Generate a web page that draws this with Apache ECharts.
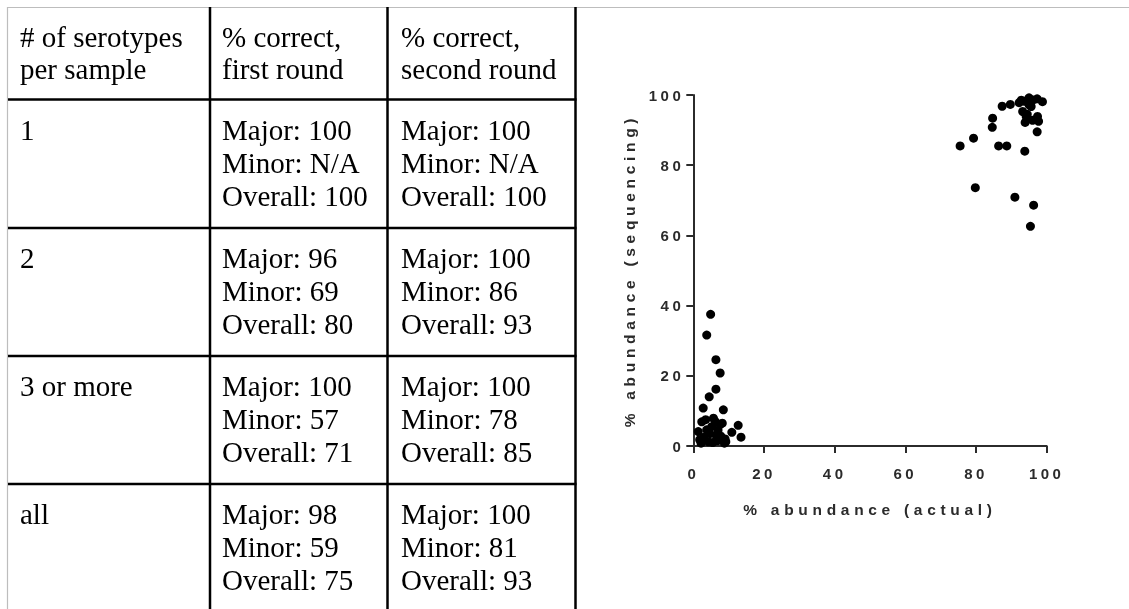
<!DOCTYPE html>
<html>
<head>
<meta charset="utf-8">
<script src="https://cdn.jsdelivr.net/npm/echarts@6/dist/echarts.min.js"></script>
<style>
  html, body { margin: 0; padding: 0; background: #fff; }
  #wrap { position: relative; width: 1129px; height: 609px; overflow: hidden; }
  #table { position: absolute; left: 0; top: 0; width: 1129px; height: 609px; }
  #scatter { position: absolute; left: 580px; top: 0; width: 549px; height: 609px; }
  #scatter text { letter-spacing: 3.5px; }
  #scatter text[style*="Arial"], #scatter text[font-family*="Arial"] { letter-spacing: 4.7px; }
</style>
</head>
<body>
<div id="wrap">
  <div id="table"></div>
  <div id="scatter"></div>
</div>
<script>
// ---------- Table data ----------
const headerLines = [
  ['# of serotypes', 'per sample'],
  ['% correct,', 'first round'],
  ['% correct,', 'second round']
];
const groups = ['1', '2', '3 or more', 'all'];
const metrics = ['Major', 'Minor', 'Overall'];
const firstRound = [[100, 'N/A', 100], [96, 69, 80], [100, 57, 71], [98, 59, 75]];
const secondRound = [[100, 'N/A', 100], [100, 86, 93], [100, 78, 85], [100, 81, 93]];

// ---------- Scatter data: [% abundance actual, % abundance sequencing] ----------
const majorPoints = [
  [75.5, 85.5], [79.3, 87.7], [79.8, 73.6], [84.7, 93.4], [84.6, 90.8],
  [86.4, 85.5], [88.7, 85.5], [87.4, 96.8], [89.7, 97.3], [92.2, 97.8],
  [92.8, 98.5], [93.8, 98.2], [95.0, 99.2], [96.2, 98.6], [97.3, 98.9],
  [98.8, 98.1], [93.2, 95.3], [94.2, 93.9], [93.9, 92.2], [95.6, 96.7],
  [97.4, 93.9], [97.7, 92.5], [97.3, 89.5], [93.8, 84.0], [91.0, 70.9],
  [96.3, 68.6], [95.4, 62.6], [94.5, 94.5], [95.0, 97.2], [96.0, 92.8]
];
const minorPoints = [
  [4.9, 37.5], [3.8, 31.6], [6.4, 24.6], [7.6, 20.8], [6.4, 16.2],
  [4.5, 14.0], [2.8, 10.8], [8.5, 10.3], [12.7, 5.9], [10.9, 3.9],
  [13.5, 2.5], [2.4, 6.9], [5.7, 7.9], [7.6, 6.1], [1.4, 4.1],
  [3.8, 4.6], [5.2, 5.5], [6.5, 3.0], [8.2, 6.5], [9.0, 2.0],
  [1.8, 1.8], [3.0, 2.5], [4.3, 1.2], [5.5, 1.0], [6.8, 1.5],
  [7.8, 2.8], [8.8, 0.8], [2.2, 0.8], [3.5, 7.5], [6.2, 7.0],
  [4.7, 3.5], [7.0, 4.5], [9.2, 1.2]
];
const xTicks = { min: 0, max: 100, interval: 20 };
const yTicks = { min: 0, max: 100, interval: 20 };

// ---------- Table drawing ----------
const colX = [7.5, 210, 387.5, 575.5];     // column borders
const rowY = [7.5, 99.5, 228, 356, 484];     // row borders
const textX = [20, 222, 401];
const serif = '"Liberation Serif", "Times New Roman", serif';
const tFont = 29;

const g = [];
g.push({ type: 'line', shape: { x1: 7, y1: 7.5, x2: 1129, y2: 7.5 }, style: { stroke: '#bdbdbd', lineWidth: 1.2 } });
g.push({ type: 'line', shape: { x1: 7.5, y1: 7, x2: 7.5, y2: 609 }, style: { stroke: '#bdbdbd', lineWidth: 1.2 } });
for (let i = 1; i < colX.length; i++) {
  g.push({ type: 'line', shape: { x1: colX[i], y1: 7, x2: colX[i], y2: 609 }, style: { stroke: '#000', lineWidth: 2.5 } });
}
for (let i = 1; i < rowY.length; i++) {
  g.push({ type: 'line', shape: { x1: 8, y1: rowY[i], x2: colX[3] + 1, y2: rowY[i] }, style: { stroke: '#000', lineWidth: 2.5 } });
}
function addText(txt, x, y) {
  g.push({ type: 'text', x: x, y: y, style: { text: txt, font: tFont + 'px ' + serif, fill: '#000', textVerticalAlign: 'middle', textAlign: 'left' } });
}
headerLines.forEach((lines, c) => {
  lines.forEach((ln, k) => addText(ln, textX[c], rowY[0] + 31.5 + k * 32));
});
groups.forEach((grp, r) => {
  const top = rowY[r + 1];
  addText(grp, textX[0], top + 32.5);
  metrics.forEach((m, k) => {
    addText(m + ': ' + firstRound[r][k], textX[1], top + 32.5 + k * 33);
    addText(m + ': ' + secondRound[r][k], textX[2], top + 32.5 + k * 33);
  });
});

const tableChart = echarts.init(document.getElementById('table'), null, { renderer: 'canvas' });
tableChart.setOption({ animation: false, backgroundColor: '#fff', graphic: g });

// ---------- Scatter ----------
const tickFont = '"Liberation Sans", sans-serif';
const nameFont = 'Arial, "Liberation Sans", sans-serif';
const axisCol = '#2b2b2b';
const scatterChart = echarts.init(document.getElementById('scatter'), null, { renderer: 'svg' });
scatterChart.setOption({
  animation: false,
  backgroundColor: 'transparent',
  grid: { left: 113.3, right: 82.3, top: 95, bottom: 163, containLabel: false },
  xAxis: {
    type: 'value', min: xTicks.min, max: xTicks.max, interval: xTicks.interval,
    name: '% abundance (actual)', nameLocation: 'middle', nameGap: 55,
    nameTextStyle: { fontFamily: nameFont, fontSize: 15.5, fontWeight: 'bold', color: axisCol },
    axisLine: { show: true, onZero: false, lineStyle: { color: axisCol, width: 2 } },
    axisTick: { show: true, inside: false, length: 7, lineStyle: { color: axisCol, width: 2 } },
    axisLabel: { margin: 20, fontFamily: tickFont, fontSize: 15, fontWeight: 'bold', color: axisCol },
    splitLine: { show: false }
  },
  yAxis: {
    type: 'value', min: yTicks.min, max: yTicks.max, interval: yTicks.interval,
    name: '% abundance (sequencing)', nameLocation: 'middle', nameGap: 56,
    nameTextStyle: { fontFamily: nameFont, fontSize: 15.5, fontWeight: 'bold', color: axisCol },
    axisLine: { show: true, onZero: false, lineStyle: { color: axisCol, width: 2 } },
    axisTick: { show: true, inside: false, length: 7, lineStyle: { color: axisCol, width: 2 } },
    axisLabel: { margin: 9, fontFamily: tickFont, fontSize: 15, fontWeight: 'bold', color: axisCol },
    splitLine: { show: false }
  },
  series: [
    { name: 'major', type: 'scatter', data: majorPoints, symbol: 'circle', symbolSize: 9, itemStyle: { color: '#000', opacity: 1 } },
    { name: 'minor', type: 'scatter', data: minorPoints, symbol: 'circle', symbolSize: 9, itemStyle: { color: '#000', opacity: 1 } }
  ]
});
</script>
</body>
</html>
